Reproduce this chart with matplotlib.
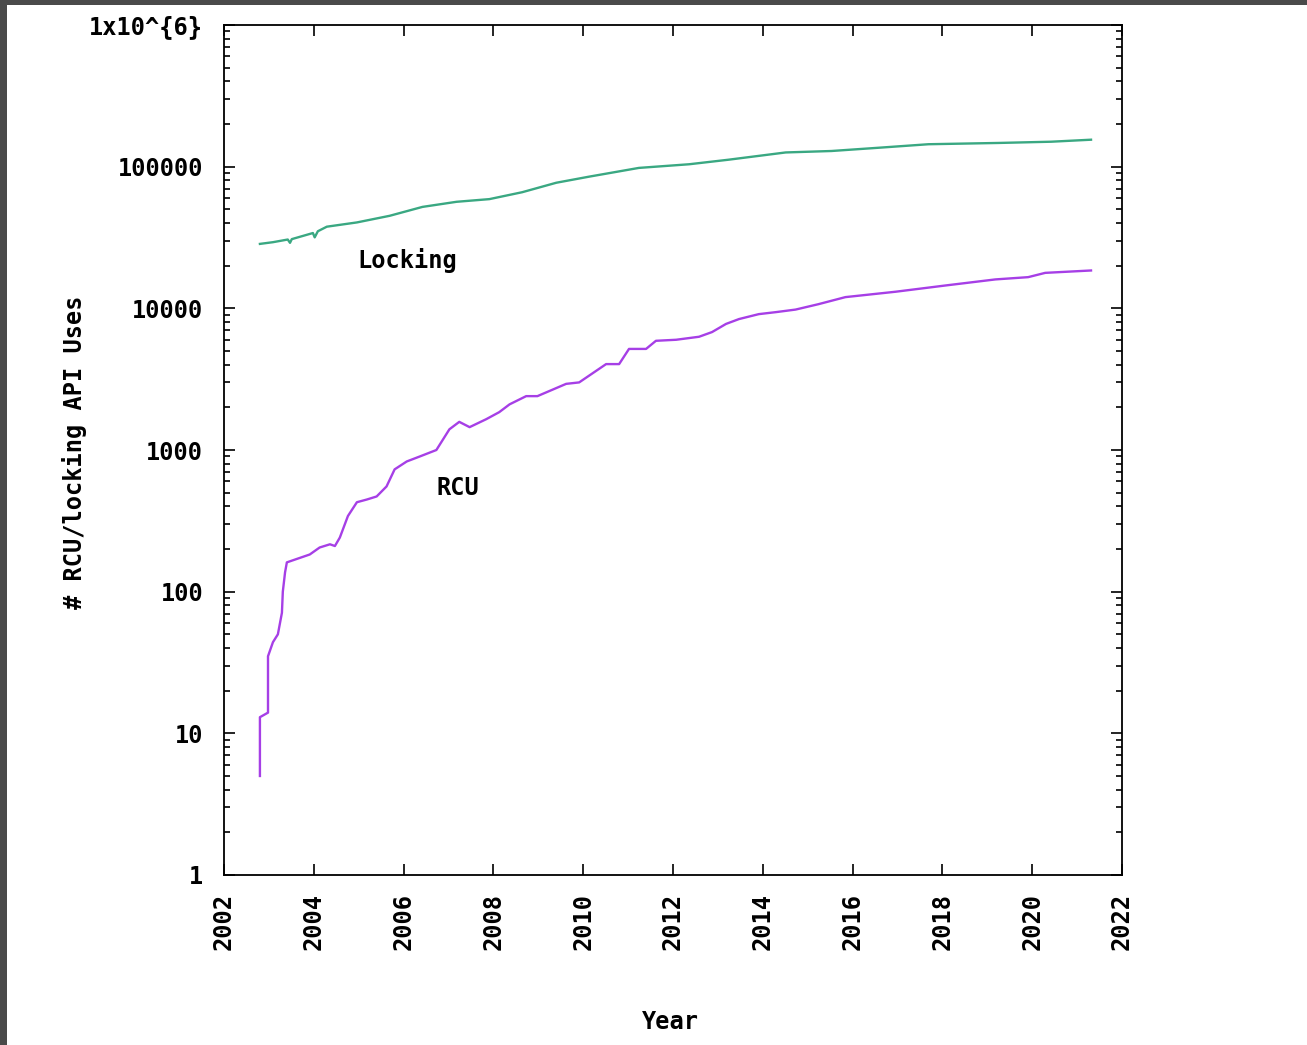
import matplotlib
matplotlib.use("Agg")
import matplotlib.pyplot as plt
from matplotlib.patches import Rectangle
from matplotlib.ticker import FixedLocator, LogLocator, NullLocator

# RCU API use counts
rcu_years = [2002.80, 2002.80, 2002.98, 2002.98, 2003.09, 2003.20, 2003.29, 2003.31,
             2003.36, 2003.40, 2003.91, 2004.13, 2004.36, 2004.47, 2004.58, 2004.76,
             2004.96, 2005.18, 2005.40, 2005.62, 2005.80, 2006.07, 2006.36, 2006.73,
             2007.02, 2007.24, 2007.47, 2007.84, 2008.13, 2008.36, 2008.73, 2008.98,
             2009.62, 2009.91, 2010.51, 2010.80, 2011.02, 2011.40, 2011.62, 2012.07,
             2012.58, 2012.87, 2013.18, 2013.47, 2013.91, 2014.29, 2014.73, 2015.24,
             2015.84, 2016.96, 2018.07, 2019.18, 2019.91, 2020.29, 2021.31]
rcu_uses = [5, 13, 14, 35, 44, 50, 71, 100,
            137, 161, 183, 205, 216, 210, 241, 342,
            428, 447, 470, 553, 730, 830, 900, 1000,
            1400, 1580, 1450, 1650, 1850, 2100, 2400, 2400,
            2930, 3000, 4040, 4040, 5170, 5170, 5900, 6000,
            6300, 6800, 7760, 8400, 9100, 9400, 9800, 10700,
            12000, 13100, 14500, 16000, 16600, 17800, 18500]

# locking API use counts
lock_years = [2002.80, 2003.09, 2003.42, 2003.47, 2003.51, 2003.98, 2004.02, 2004.09,
              2004.29, 2004.96, 2005.69, 2006.42, 2007.18, 2007.91, 2008.64, 2009.40,
              2010.13, 2011.24, 2012.36, 2013.24, 2014.51, 2015.53, 2016.58, 2017.69,
              2019.24, 2020.42, 2021.31]
lock_uses = [28500, 29300, 30600, 29000, 30800, 34000, 31700, 35000,
             37700, 40400, 45000, 52000, 56500, 59000, 66000, 77000,
             85000, 98000, 104000, 112000, 126000, 129000, 136000, 144000,
             147000, 150000, 155000]

year_ticks = list(range(2002, 2023, 2))
y_ticks = [1, 10, 100, 1000, 10000, 100000, 1000000]
y_tick_labels = ["1", "10", "100", "1000", "10000", "100000", "1x10^{6}"]

FONT = "DejaVu Sans Mono"
FS = 17

fig = plt.figure(figsize=(13.07, 10.45), dpi=100)
fig.patch.set_facecolor("#4a4a4a")
fig.patches.append(Rectangle((7 / 1307, 0), 1, 1 - 5 / 1045, transform=fig.transFigure,
                             facecolor="white", edgecolor="none", zorder=-10))

ax = fig.add_axes([224 / 1307, 1 - 875 / 1045, 898 / 1307, 850 / 1045])
ax.plot(lock_years, lock_uses, color="#3aa882", lw=1.7)
ax.plot(rcu_years, rcu_uses, color="#a63fe6", lw=1.7)

ax.set_yscale("log")
ax.set_xlim(2002, 2022)
ax.set_ylim(1, 1e6)

ax.xaxis.set_major_locator(FixedLocator(year_ticks))
ax.xaxis.set_minor_locator(NullLocator())
ax.set_xticklabels([str(y) for y in year_ticks], rotation=90,
                   fontfamily=FONT, fontweight="bold", fontsize=FS)
ax.yaxis.set_major_locator(FixedLocator(y_ticks))
ax.yaxis.set_minor_locator(LogLocator(base=10, subs=range(2, 10), numticks=20))
ax.set_yticklabels(y_tick_labels, fontfamily=FONT, fontweight="bold", fontsize=FS)

ax.tick_params(which="both", direction="in", top=True, right=True, color="black")
ax.tick_params(which="major", length=8, width=1.2)
ax.tick_params(which="minor", length=4.5, width=1.2)
ax.tick_params(axis="y", which="major", pad=15)
ax.tick_params(axis="x", which="major", pad=13)
for s in ax.spines.values():
    s.set_linewidth(1.3)

ax.text(2004.96, 21600, "Locking", fontfamily=FONT, fontweight="bold", fontsize=FS,
        ha="left", va="center")
ax.text(2006.73, 537, "RCU", fontfamily=FONT, fontweight="bold", fontsize=FS,
        ha="left", va="center")

fig.text(75 / 1307, 1 - 452 / 1045, "# RCU/locking API Uses", rotation=90,
         fontfamily=FONT, fontweight="bold", fontsize=FS, ha="center", va="center")
fig.text(670 / 1307, 1 - 1022 / 1045, "Year", fontfamily=FONT, fontweight="bold",
         fontsize=FS, ha="center", va="center")

fig.savefig("out.png", dpi=100, facecolor=fig.get_facecolor())
